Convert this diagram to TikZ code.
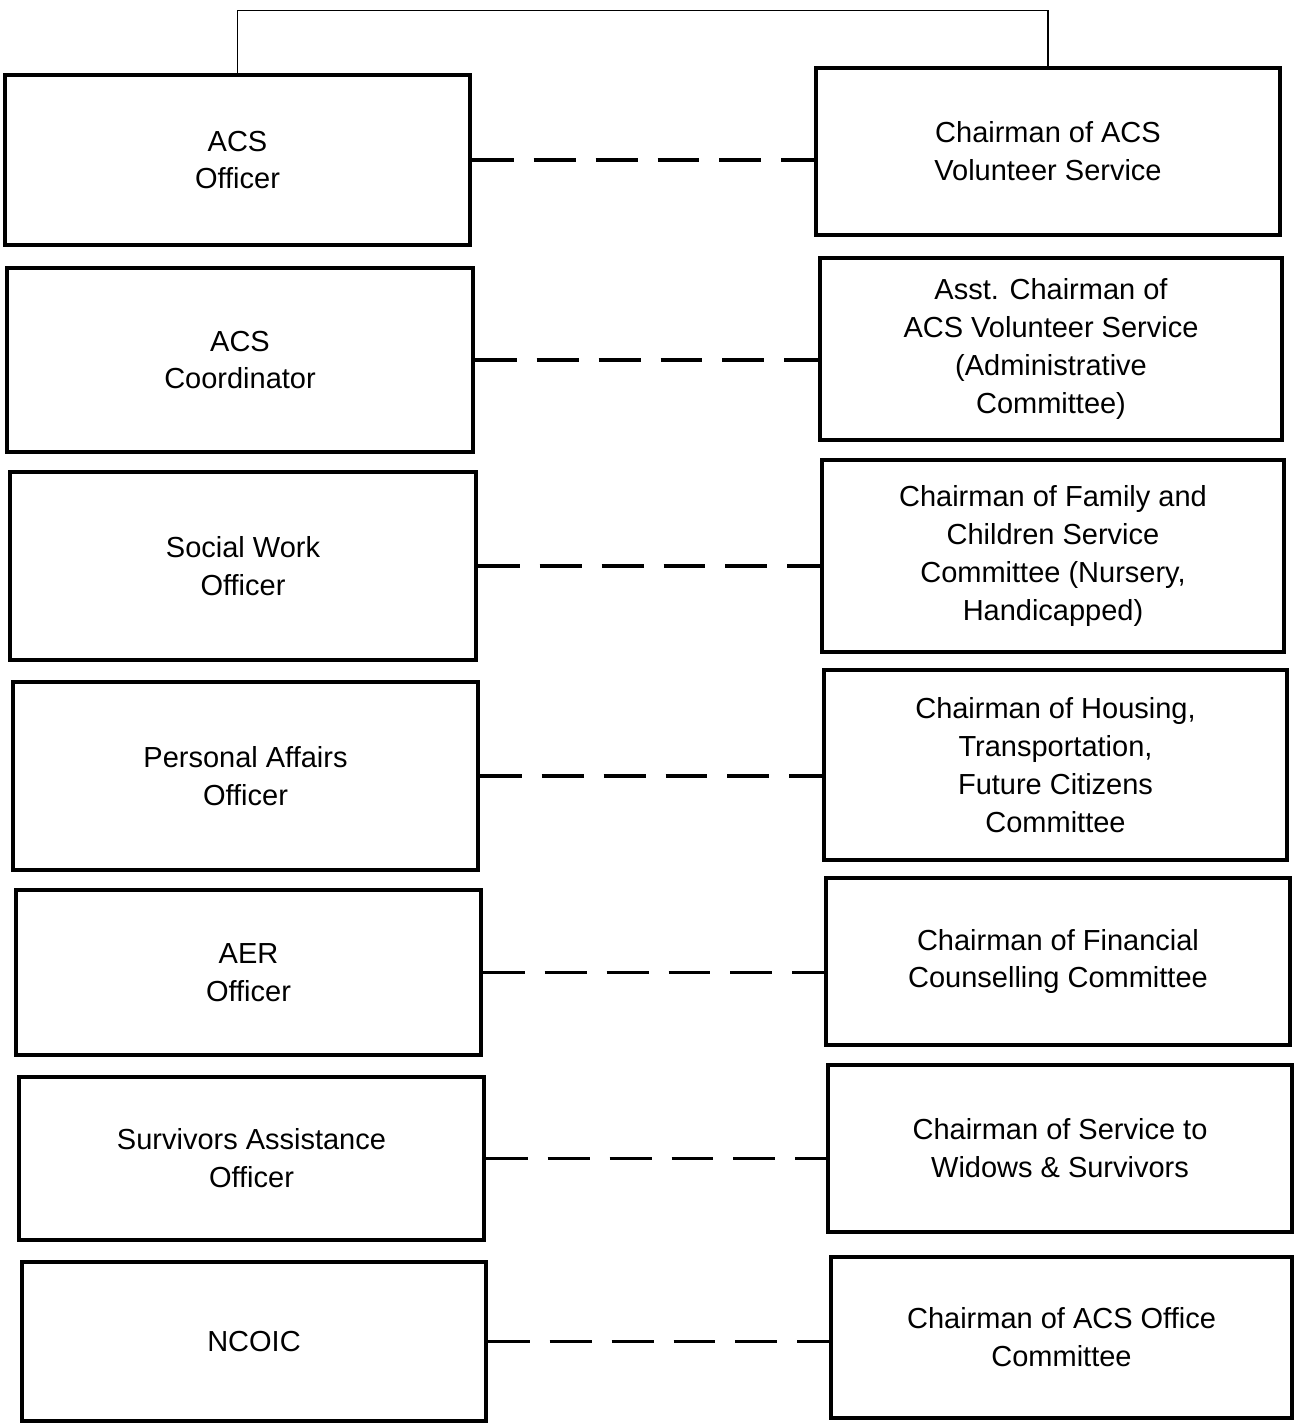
\documentclass[tikz,border=0pt]{standalone}
\usepackage{fontspec}
\setmainfont{Liberation Sans}
\usepackage{tikz}

\begin{document}
\begin{tikzpicture}[x=0.02cm,y=-0.02cm,
  box/.style={draw,line width=1.8pt,align=center,inner sep=0pt,font=\fontsize{16.5}{21.6}\selectfont},
  link/.style={line width=1.8pt,dash pattern=on 0.84cm off 0.4cm}]
\useasboundingbox (0,0) rectangle (1296,1423);

% officers
\node[box,minimum width=9.3cm,minimum height=3.4cm] (acsoff) at (237.5,160) {ACS\\Officer};
\node[box,minimum width=9.32cm,minimum height=3.68cm] (acscoord) at (240,360) {ACS\\Coordinator};
\node[box,minimum width=9.32cm,minimum height=3.76cm] (socwork) at (243,566) {Social Work\\Officer};
\node[box,minimum width=9.3cm,minimum height=3.76cm] (persaff) at (245.5,776) {Personal Affairs\\Officer};
\node[box,minimum width=9.3cm,minimum height=3.3cm] (aer) at (248.5,972.5) {AER\\Officer};
\node[box,minimum width=9.3cm,minimum height=3.26cm] (surv) at (251.5,1158.5) {Survivors Assistance\\Officer};
\node[box,minimum width=9.28cm,minimum height=3.18cm] (ncoic) at (254,1341.5) {NCOIC};

% volunteer chairmen
\node[box,minimum width=9.28cm,minimum height=3.34cm] (chacs) at (1048,151.5) {Chairman of ACS\\Volunteer Service};
\node[box,minimum width=9.24cm,minimum height=3.64cm] (asstch) at (1051,349) {Asst. Chairman of\\ACS Volunteer Service\\(Administrative\\Committee)};
\node[box,minimum width=9.24cm,minimum height=3.84cm] (family) at (1053,556) {Chairman of Family and\\Children Service\\Committee (Nursery,\\Handicapped)};
\node[box,minimum width=9.26cm,minimum height=3.8cm] (housing) at (1055.5,765) {Chairman of Housing,\\Transportation,\\Future Citizens\\Committee};
\node[box,minimum width=9.28cm,minimum height=3.34cm] (finance) at (1058,961.5) {Chairman of Financial\\Counselling Committee};
\node[box,minimum width=9.28cm,minimum height=3.34cm] (widows) at (1060,1148.5) {Chairman of Service to\\Widows \& Survivors};
\node[box,minimum width=9.22cm,minimum height=3.22cm] (office) at (1061.5,1337.5) {Chairman of ACS Office\\Committee};

\draw[line width=1pt] (acsoff.north) -- ++(0,-63) -| (chacs.north);

\foreach \l/\r in {acsoff/chacs,acscoord/asstch,socwork/family,persaff/housing,aer/finance,surv/widows,ncoic/office}
  \draw[link] (\l.east) -- (\l.east -| \r.west);
\end{tikzpicture}
\end{document}
